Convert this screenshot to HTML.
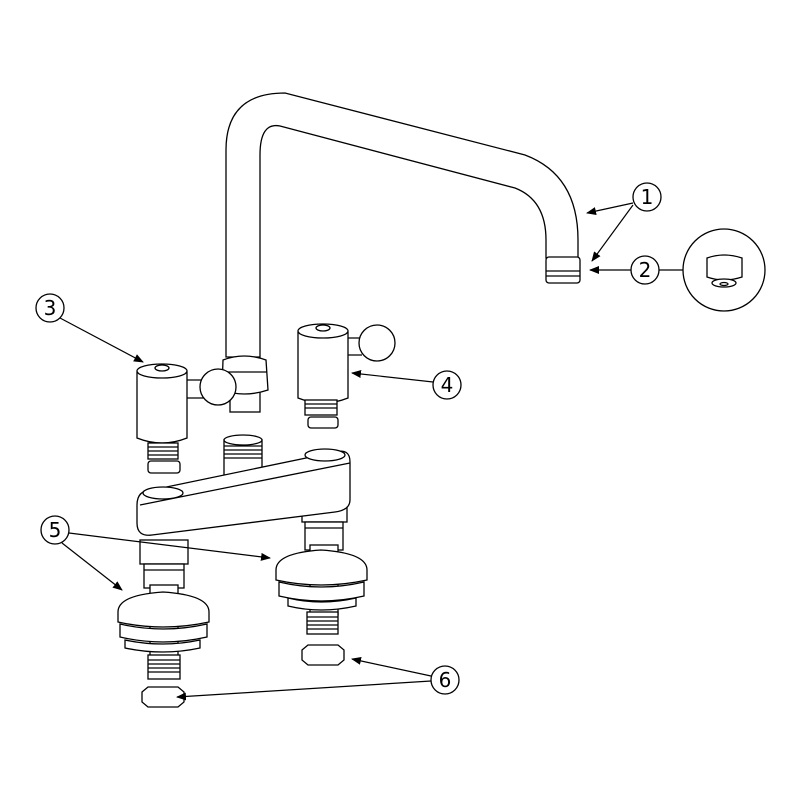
<!DOCTYPE html>
<html><head><meta charset="utf-8"><style>html,body{margin:0;padding:0;background:#fff}svg{display:block}</style></head><body>
<svg width="800" height="800" viewBox="0 0 800 800" xmlns="http://www.w3.org/2000/svg">
<defs><marker id="a" markerWidth="10" markerHeight="8" refX="9" refY="4" orient="auto" markerUnits="userSpaceOnUse"><path d="M0,0 L10,4 L0,8 z" fill="#000"/></marker></defs>
<g fill="#fff" stroke="#000" stroke-width="1.3">
<!-- spout -->
<path d="M226,357 L226,150 Q226,93 285,93 L525,155 Q578,175 578,240 L578,258 L546,258 L546,240 Q546,200 515,188 L280,126 Q260,122 260,155 L260,357 Z"/>
<rect x="546" y="257" width="34" height="26" rx="3"/>
<line x1="546" y1="271" x2="580" y2="271"/><line x1="546" y1="276" x2="580" y2="276"/>
<!-- spout collar -->
<rect x="230" y="385" width="30" height="27"/>
<path d="M223,360 Q244,352 266,360 L268,390 Q244,398 222,390 Z"/>
<line x1="224" y1="372" x2="267" y2="372"/>
<!-- left handle -->
<path d="M137,372 Q162,360 187,372 L187,438 Q162,448 137,438 Z"/>
<ellipse cx="162" cy="371" rx="25" ry="7"/><ellipse cx="162" cy="368" rx="7" ry="3"/>
<path d="M187,380 L205,380 M187,398 L205,398"/>
<circle cx="218" cy="387" r="18"/>
<rect x="148" y="443" width="30" height="16"/>
<line x1="148" y1="447" x2="178" y2="447"/><line x1="148" y1="451" x2="178" y2="451"/><line x1="148" y1="455" x2="178" y2="455"/>
<rect x="148" y="461" width="32" height="12" rx="3"/>
<!-- right handle -->
<path d="M298,332 Q323,320 348,332 L348,398 Q323,408 298,398 Z"/>
<ellipse cx="323" cy="331" rx="25" ry="7"/><ellipse cx="323" cy="328" rx="7" ry="3"/>
<path d="M348,338 L362,338 M348,355 L362,355"/>
<circle cx="377" cy="343" r="18"/>
<rect x="305" y="400" width="32" height="15"/>
<line x1="305" y1="404" x2="337" y2="404"/><line x1="305" y1="408" x2="337" y2="408"/>
<rect x="308" y="417" width="30" height="11" rx="3"/>
<!-- center nipple -->
<rect x="224" y="440" width="38" height="40"/>
<ellipse cx="243" cy="440" rx="19" ry="5"/>
<line x1="224" y1="446" x2="262" y2="446"/><line x1="224" y1="450" x2="262" y2="450"/><line x1="224" y1="454" x2="262" y2="454"/><line x1="224" y1="458" x2="262" y2="458"/>
<!-- right leg -->
<rect x="302" y="500" width="45" height="22"/>
<rect x="305" y="522" width="38" height="28"/>
<line x1="305" y1="528" x2="343" y2="528"/>
<rect x="310" y="545" width="28" height="70"/>
<path d="M276,570 Q276,553 321,550 Q367,553 367,570 L367,580 Q321,590 276,580 Z"/>
<path d="M279,582 Q321,592 364,582 L364,596 Q321,606 279,596 Z"/>
<path d="M288,598 Q321,606 356,598 L356,606 Q321,614 288,606 Z"/>
<rect x="307" y="612" width="31" height="22"/>
<line x1="307" y1="617" x2="338" y2="617"/><line x1="307" y1="621" x2="338" y2="621"/><line x1="307" y1="625" x2="338" y2="625"/><line x1="307" y1="629" x2="338" y2="629"/>
<path d="M302,650 L308,645 L338,645 L344,650 L344,660 L338,665 L308,665 L302,660 Z"/>
<!-- deck bar -->
<path d="M137,505 Q137,490 152,490 L335,452 Q350,448 350,462 L350,500 Q350,510 335,512 L152,535 Q137,537 137,523 Z"/>
<line x1="140" y1="505" x2="350" y2="463"/>
<ellipse cx="163" cy="493" rx="20" ry="6"/>
<ellipse cx="325" cy="455" rx="20" ry="6"/>
<!-- left leg -->
<rect x="140" y="540" width="48" height="24"/>
<rect x="144" y="564" width="40" height="24"/>
<line x1="144" y1="570" x2="184" y2="570"/>
<rect x="150" y="585" width="28" height="75"/>
<path d="M118,612 Q118,595 163,592 Q209,595 209,612 L209,622 Q163,632 118,622 Z"/>
<path d="M120,624 Q163,634 207,624 L207,637 Q163,647 120,637 Z"/>
<path d="M125,640 Q163,648 200,640 L200,648 Q163,656 125,648 Z"/>
<rect x="148" y="655" width="32" height="24"/>
<line x1="148" y1="660" x2="180" y2="660"/><line x1="148" y1="664" x2="180" y2="664"/><line x1="148" y1="668" x2="180" y2="668"/><line x1="148" y1="672" x2="180" y2="672"/>
<path d="M142,692 L148,687 L178,687 L184,692 L184,702 L178,707 L148,707 L142,702 Z"/>
<!-- callouts -->
<circle cx="647" cy="197" r="14"/>
<circle cx="645" cy="270" r="14"/>
<circle cx="50" cy="308" r="14"/>
<circle cx="447" cy="385" r="14"/>
<circle cx="55" cy="530" r="14"/>
<circle cx="445" cy="680" r="14"/>
<circle cx="724" cy="270" r="41"/>
<line x1="659" y1="270" x2="683" y2="270"/>
<!-- aerator detail -->
<path d="M707,258 Q724,252 742,258 L742,277 Q724,283 707,277 Z"/>
<ellipse cx="724" cy="283" rx="12" ry="4"/>
<ellipse cx="724" cy="284" rx="4" ry="1.5"/>
</g>
<g stroke="#000" stroke-width="1.2" fill="none" marker-end="url(#a)">
<line x1="633" y1="203" x2="587" y2="213"/>
<line x1="633" y1="205" x2="592" y2="261"/>
<line x1="631" y1="270" x2="590" y2="270"/>
<line x1="60" y1="318" x2="143" y2="362"/>
<line x1="433" y1="382" x2="352" y2="373"/>
<line x1="69" y1="533" x2="270" y2="558"/>
<line x1="62" y1="543" x2="122" y2="590"/>
<line x1="431" y1="676" x2="352" y2="659"/>
<line x1="431" y1="681" x2="177" y2="697"/>
</g>
<g font-family="'DejaVu Sans','Liberation Sans',sans-serif" font-size="20" text-anchor="middle" fill="#000">
<text x="647" y="204">1</text>
<text x="645" y="277">2</text>
<text x="50" y="315">3</text>
<text x="447" y="392">4</text>
<text x="55" y="537">5</text>
<text x="445" y="687">6</text>
</g>
</svg>
</body></html>
